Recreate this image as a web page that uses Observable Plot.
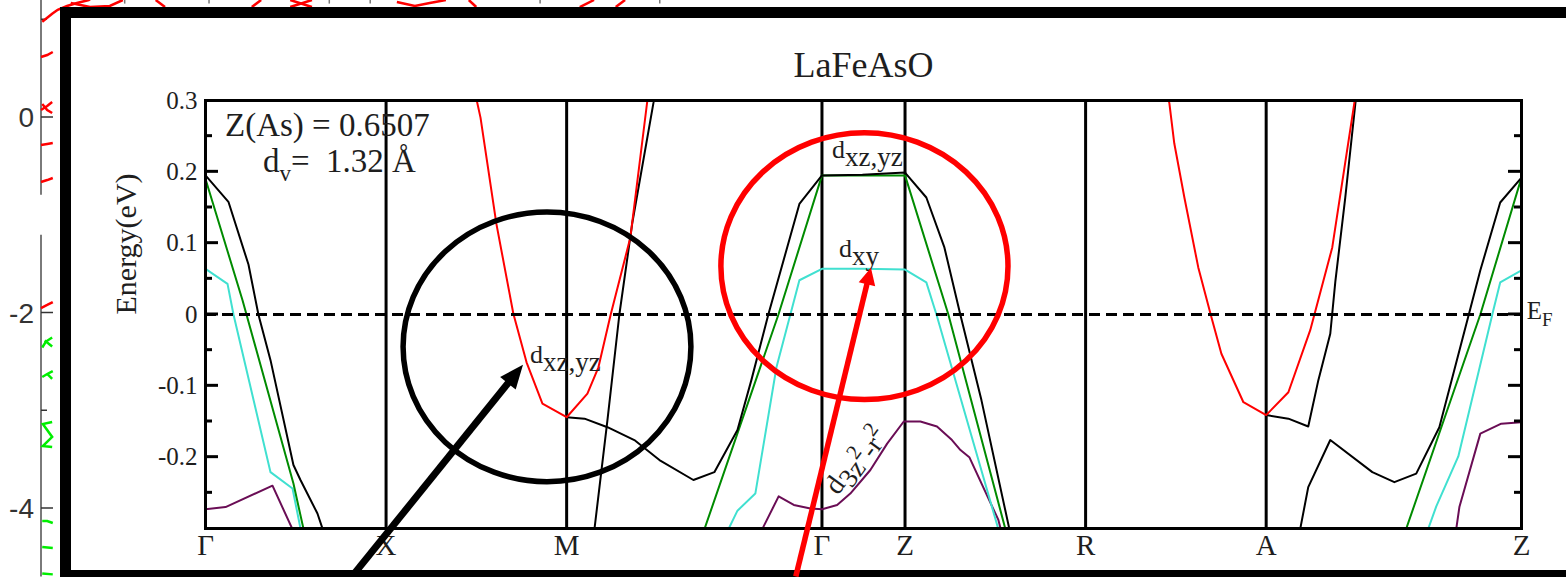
<!DOCTYPE html>
<html>
<head>
<meta charset="utf-8">
<script src="https://cdn.jsdelivr.net/npm/d3@7"></script>
<script src="https://cdn.jsdelivr.net/npm/@observablehq/plot@0.6"></script>
<style>
  html, body { margin: 0; padding: 0; background: #fff; }
  #chart { width: 1566px; height: 577px; overflow: hidden; }
  text { white-space: pre; }
</style>
</head>
<body>
<div id="chart"></div>
<script>
// ---- Band structure of LaFeAsO along Γ–X–M–Γ–Z–R–A–Z (energies in eV, E_F = 0) ----
const title = "LaFeAsO";
const yLabel = "Energy(eV)";
const kPoints = [0, 1, 2, 3.414, 3.874, 4.874, 5.874, 7.288];
const kLabels = ["Γ", "X", "M", "Γ", "Z", "R", "A", "Z"];
const energyTicks = [-0.2, -0.1, 0, 0.1, 0.2, 0.3];
const energyMinor = [-0.25, -0.15, -0.05, 0.05, 0.15, 0.25];

// Γ → X
const blackGX  = [[0,0.195],[0.127,0.158],[0.238,0.070],[0.293,0],[0.360,-0.064],[0.487,-0.211],[0.526,-0.232],[0.620,-0.279],[0.661,-0.310]];
const greenGX  = [[0,0.190],[0.205,0.020],[0.487,-0.237],[0.551,-0.310]];
const cyanGX   = [[0,0.064],[0.122,0.043],[0.155,0],[0.360,-0.221],[0.482,-0.244],[0.534,-0.310]];
const purpleGX = [[0,-0.273],[0.111,-0.270],[0.371,-0.240],[0.498,-0.310]];

// X → M → Γ → Z → R
const redM       = [[1.484,0.321],[1.523,0.276],[1.611,0.127],[1.705,0.001],[1.778,-0.067],[1.866,-0.125],[2,-0.144],[2.115,-0.111],[2.176,-0.074],[2.243,-0.001],[2.353,0.108],[2.447,0.300],[2.458,0.321]];
const blackSteepM = [[2.137,-0.330],[2.154,-0.301],[2.226,-0.148],[2.292,0],[2.364,0.129],[2.481,0.297],[2.492,0.317]];
const blackMGZR  = [[2,-0.144],[2.099,-0.146],[2.226,-0.158],[2.375,-0.176],[2.514,-0.204],[2.702,-0.232],[2.818,-0.221],[2.946,-0.162],[3.023,-0.092],[3.117,0],[3.289,0.155],[3.414,0.195],[3.638,0.196],[3.874,0.199],[3.992,0.164],[4.092,0.094],[4.180,0],[4.297,-0.120],[4.452,-0.301],[4.468,-0.317]];
const greenMGZR  = [[2.746,-0.317],[2.763,-0.301],[3.173,0],[3.414,0.195],[3.874,0.195],[4.114,0],[4.430,-0.301],[4.446,-0.317]];
const cyanMGZR   = [[2.879,-0.317],[2.896,-0.301],[2.946,-0.275],[3.045,-0.251],[3.162,-0.074],[3.289,0.048],[3.414,0.064],[3.638,0.064],[3.874,0.063],[3.992,0.045],[4.048,0],[4.391,-0.301],[4.408,-0.317]];
const purpleMGZR = [[3.070,-0.310],[3.091,-0.297],[3.174,-0.255],[3.258,-0.267],[3.350,-0.272],[3.415,-0.273],[3.498,-0.267],[3.571,-0.251],[3.682,-0.218],[3.775,-0.181],[3.867,-0.150],[3.959,-0.150],[4.051,-0.157],[4.134,-0.176],[4.181,-0.190],[4.230,-0.200],[4.391,-0.288],[4.419,-0.316]];

// R → A → Z
const redA     = [[5.316,0.321],[5.338,0.296],[5.365,0.240],[5.421,0.164],[5.498,0.066],[5.570,-0.003],[5.626,-0.055],[5.748,-0.123],[5.874,-0.141],[5.997,-0.109],[6.118,-0.022],[6.240,0.094],[6.362,0.296],[6.373,0.317]];
const blackA1  = [[5.874,-0.141],[5.997,-0.146],[6.107,-0.157],[6.163,-0.092],[6.229,-0.027],[6.257,0.046],[6.312,0.164],[6.368,0.296],[6.379,0.317]];
const blackA2  = [[6.052,-0.317],[6.063,-0.300],[6.107,-0.242],[6.229,-0.176],[6.462,-0.221],[6.584,-0.235],[6.705,-0.223],[6.833,-0.158],[6.993,-0.003],[7.060,0.062],[7.170,0.157],[7.288,0.192]];
const greenAZ  = [[6.634,-0.317],[6.650,-0.300],[7.060,0],[7.288,0.192]];
const cyanAZ   = [[6.755,-0.317],[6.772,-0.300],[6.816,-0.269],[6.938,-0.199],[7.132,0.006],[7.170,0.045],[7.288,0.062]];
const purpleAZ = [[6.916,-0.317],[6.927,-0.300],[6.944,-0.270],[7.060,-0.167],[7.176,-0.153],[7.288,-0.151]];

// orbital-character labels: anchor (k, E), rotation, pieces (base / sub / sup)
const orbitalLabels = [
  {k: 1.800, E: -0.068, angle: 0,   parts: [["d","base"],["xz,yz","sub"]]},
  {k: 3.472, E: 0.219,  angle: 0,   parts: [["d","base"],["xz,yz","sub"]]},
  {k: 3.511, E: 0.080,  angle: 0,   parts: [["d","base"],["xy","sub"]]},
  {k: 3.505, E: -0.255, angle: -54, parts: [["d","base"],["3z","sub"],["2","sup"],["-r","sub"],["2","sup"]]}
];
const infoLines = [
  {k: 0.111, E: 0.250, parts: [["Z(As) = 0.6507","base"]]},
  {k: 0.321, E: 0.199, parts: [["d","base"],["v","sub"],["=  1.32 Å","base"]]}
];
const fermiLabel = {k: 7.320, E: -0.007, parts: [["E","base"],["F","sub"]]};

// highlight rings (centre and half-axes in k / eV) and arrows (tail → tip)
const rings = [
  {k: 1.894, E: -0.046, dk: 0.797, dE: 0.189, color: "#000"},
  {k: 3.652, E: 0.067,  dk: 0.795, dE: 0.187, color: "#ff0000"}
];
const pointers = [
  {k1: 0.814, E1: -0.368, k2: 1.761, E2: -0.071, color: "#000"},
  {k1: 3.272, E1: -0.368, k2: 3.688, E2: 0.065, color: "#ff0000"}
];

// neighbouring panel peeking in at the left edge (its own energy axis in eV)
const sideTicksMajor = [0, -2, -4];
const sideTicksMinor = [1, -3];
const sideAxisSegments = [[1.2, -0.796], [-1.204, -4.7]];
const sideTopRules = [0.135, 0.271, 0.465, 0.531, 0.805, 0.998];
const sideRed = [
  [[0.002,0.974],[0.010,1.015],[0.018,1.056],[0.027,1.097],[0.042,1.136],[0.058,1.166],[0.077,1.197],[0.082,1.218]],
  [[0,0.614],[0.010,0.634],[0.019,0.665]],
  [[0,0.072],[0.010,0.113],[0.018,0.153]],
  [[0.002,0.133],[0.010,0.072],[0.018,0.041]],
  [[0,-0.287],[0.010,-0.276],[0.019,-0.266]],
  [[0,-0.665],[0.010,-0.645],[0.019,-0.624]],
  [[0,-1.954],[0.010,-1.923],[0.019,-1.893]],
  [[0.048,1.166],[0.079,1.125],[0.111,1.136],[0.132,1.197]],
  [[0.185,1.197],[0.200,1.125]],
  [[0.340,1.125],[0.355,1.197]],
  [[0.402,1.125],[0.437,1.197]],
  [[0.402,1.197],[0.437,1.125]],
  [[0.574,1.177],[0.603,1.136],[0.627,1.166],[0.653,1.197]],
  [[0.690,1.197],[0.702,1.125]],
  [[0.869,1.125],[0.892,1.197]],
  [[0.927,1.125],[0.942,1.197]]
];
const sideGreen = [
  [[0.018,-2.256],[0.008,-2.297],[0.002,-2.358]],
  [[0.006,-2.287],[0.018,-2.348]],
  [[0.002,-2.660],[0.010,-2.629],[0.019,-2.599]],
  [[0.010,-2.629],[0.018,-2.680]],
  [[0.018,-3.120],[0.003,-3.141],[0.018,-3.273],[0.003,-3.366],[0.018,-3.376]],
  [[0.002,-4.133],[0.010,-4.133],[0.019,-4.153]],
  [[0.002,-4.399],[0.019,-4.409]],
  [[0.002,-4.669],[0.019,-4.679]]
];

const maroon = "#6a0d55", turquoise = "#40e0d0", green4 = "#008b00", red = "#ff0000", black = "#000";
const bands = [
  {pts: purpleGX, color: maroon}, {pts: purpleMGZR, color: maroon}, {pts: purpleAZ, color: maroon},
  {pts: cyanGX, color: turquoise}, {pts: cyanMGZR, color: turquoise}, {pts: cyanAZ, color: turquoise},
  {pts: greenGX, color: green4}, {pts: greenMGZR, color: green4}, {pts: greenAZ, color: green4},
  {pts: blackGX, color: black}, {pts: blackSteepM, color: black}, {pts: blackMGZR, color: black},
  {pts: blackA1, color: black}, {pts: blackA2, color: black},
  {pts: redM, color: red}, {pts: redA, color: red}
];

const serif = "Liberation Serif, Times New Roman, serif";
const sans = "Liberation Sans, Arial, sans-serif";
const ink = "#1e1e1e";

const plot = Plot.plot({
  width: 1566,
  height: 577,
  marginLeft: 205,
  marginRight: 45,
  marginTop: 100,
  marginBottom: 49,
  x: {domain: [0, 7.288], label: null},
  y: {domain: [-0.3, 0.3], label: null},
  style: {fontFamily: serif, background: "#fff", color: ink},
  marks: [
    Plot.ruleX(kPoints.slice(1, -1), {stroke: black, strokeWidth: 3}),
    ...bands.map(b => Plot.line(b.pts, {x: d => d[0], y: d => d[1], stroke: b.color, strokeWidth: 2, clip: true})),
    Plot.ruleY([0], {stroke: black, strokeWidth: 3, strokeDasharray: "11,6"}),
    Plot.frame({stroke: black, strokeWidth: 3}),
    Plot.axisY(energyTicks, {anchor: "left", tickSize: 0, tickPadding: 8, tickFormat: d => String(d), fontSize: 25, fontFamily: serif, label: null}),
    Plot.axisX(kPoints, {anchor: "bottom", tickSize: 0, tickPadding: 6, tickFormat: d => kLabels[kPoints.indexOf(d)], fontSize: 29, fontFamily: serif, label: null}),
    Plot.text([title], {text: d => d, frameAnchor: "top", dy: -49, fontSize: 36, fontFamily: serif}),
    Plot.text([yLabel], {text: d => d, frameAnchor: "left", dx: -79, rotate: -90, fontSize: 30, fontFamily: serif})
  ]
});
document.getElementById("chart").append(plot);

const xs = plot.scale("x"), ys = plot.scale("y");
const px = k => xs.apply(k), py = e => ys.apply(e);
const svg = d3.select(plot);

// inward energy ticks on both vertical edges
const k0 = kPoints[0], kEnd = kPoints[kPoints.length - 1];
const tickG = svg.append("g").attr("stroke", black).attr("stroke-width", 3);
for (const [vals, len] of [[energyTicks.filter(t => t > -0.3 && t < 0.3), 13], [energyMinor, 7]]) {
  for (const t of vals) {
    tickG.append("line").attr("x1", px(k0)).attr("x2", px(k0) + len).attr("y1", py(t)).attr("y2", py(t));
    tickG.append("line").attr("x1", px(kEnd)).attr("x2", px(kEnd) - len).attr("y1", py(t)).attr("y2", py(t));
  }
}

// text with subscripts / superscripts, left-anchored at its baseline
function richText(parent, x, y, parts, sizes, angle = 0) {
  const shifts = {base: 0, sub: sizes.subShift, sup: sizes.supShift};
  const t = parent.append("text")
    .attr("transform", `translate(${x},${y}) rotate(${angle})`)
    .attr("text-anchor", "start")
    .style("font-family", serif)
    .style("fill", ink);
  let cur = 0;
  for (const [str, kind] of parts) {
    t.append("tspan").attr("dy", shifts[kind] - cur).style("font-size", sizes[kind] + "px").text(str);
    cur = shifts[kind];
  }
  return t;
}
const labelG = svg.append("g");
orbitalLabels.forEach((L, i) => {
  const sizes = i === 3
    ? {base: 28, sub: 27, sup: 21, subShift: 7, supShift: -6}
    : {base: 26, sub: 27, sup: 18, subShift: 8, supShift: -6};
  richText(labelG, px(L.k), py(L.E), L.parts, sizes, L.angle);
});
richText(labelG, px(infoLines[0].k), py(infoLines[0].E), infoLines[0].parts, {base: 33, sub: 23, sup: 16, subShift: 9, supShift: -8});
richText(labelG, px(infoLines[1].k), py(infoLines[1].E), infoLines[1].parts, {base: 33, sub: 23, sup: 16, subShift: 9, supShift: -8});
richText(labelG, px(fermiLabel.k), py(fermiLabel.E), fermiLabel.parts, {base: 25, sub: 19, sup: 14, subShift: 7, supShift: -6});

// neighbouring panel on the left
const sideY = d3.scaleLinear([0, -4], [117, 508]);
const sideX = d3.scaleLinear([0, 1], [41, 661]);
const sideG = svg.append("g");
const sideLine = d3.line(d => sideX(d[0]), d => sideY(d[1]));
for (const seg of sideAxisSegments) {
  sideG.append("line").attr("x1", sideX(0)).attr("x2", sideX(0)).attr("y1", sideY(seg[0])).attr("y2", sideY(seg[1]))
    .attr("stroke", "#7a7a7a").attr("stroke-width", 2);
}
for (const r of sideTopRules) {
  sideG.append("line").attr("x1", sideX(r)).attr("x2", sideX(r)).attr("y1", 0).attr("y2", sideY(1.16))
    .attr("stroke", "#7a7a7a").attr("stroke-width", 1.5);
}
for (const t of sideTicksMajor) {
  sideG.append("line").attr("x1", sideX(0)).attr("x2", sideX(0) + 12).attr("y1", sideY(t)).attr("y2", sideY(t))
    .attr("stroke", "#333").attr("stroke-width", 1.5);
  sideG.append("text").attr("x", sideX(0) - 7).attr("y", sideY(t)).attr("dy", "0.36em")
    .attr("text-anchor", "end").style("font-family", sans)
    .style("font-size", "28px").style("fill", "#333").text(String(t));
}
for (const t of sideTicksMinor) {
  sideG.append("line").attr("x1", sideX(0)).attr("x2", sideX(0) + 6).attr("y1", sideY(t)).attr("y2", sideY(t))
    .attr("stroke", "#333").attr("stroke-width", 1.5);
}
for (const s of sideRed) sideG.append("path").attr("d", sideLine(s)).attr("fill", "none").attr("stroke", "#ff0000").attr("stroke-width", 2.5);
for (const s of sideGreen) sideG.append("path").attr("d", sideLine(s)).attr("fill", "none").attr("stroke", "#00ee00").attr("stroke-width", 2.5);

// highlight rings
const annG = svg.append("g");
for (const r of rings) {
  annG.append("ellipse")
    .attr("cx", px(r.k)).attr("cy", py(r.E))
    .attr("rx", px(r.k + r.dk) - px(r.k)).attr("ry", py(r.E) - py(r.E + r.dE))
    .attr("fill", "none").attr("stroke", r.color).attr("stroke-width", 5.5);
}

// heavy border around the panel
svg.append("rect").attr("x", 65.5).attr("y", 12.5).attr("width", 1640).attr("height", 563)
  .attr("fill", "none").attr("stroke", black).attr("stroke-width", 11);

// pointer arrows with solid heads
const arrowStyle = [{w: 7, head: 24, half: 10}, {w: 5.5, head: 17, half: 8.5}];
pointers.forEach((p, i) => {
  const s = arrowStyle[i];
  const x1 = px(p.k1), y1 = py(p.E1), x2 = px(p.k2), y2 = py(p.E2);
  const len = Math.hypot(x2 - x1, y2 - y1), ux = (x2 - x1) / len, uy = (y2 - y1) / len;
  const bx = x2 - ux * s.head, by = y2 - uy * s.head;
  svg.append("line").attr("x1", x1).attr("y1", y1).attr("x2", bx + ux * 2).attr("y2", by + uy * 2)
    .attr("stroke", p.color).attr("stroke-width", s.w);
  svg.append("path")
    .attr("d", `M${x2},${y2}L${bx - uy * s.half},${by + ux * s.half}L${bx + uy * s.half},${by - ux * s.half}Z`)
    .attr("fill", p.color);
});
</script>
</body>
</html>
